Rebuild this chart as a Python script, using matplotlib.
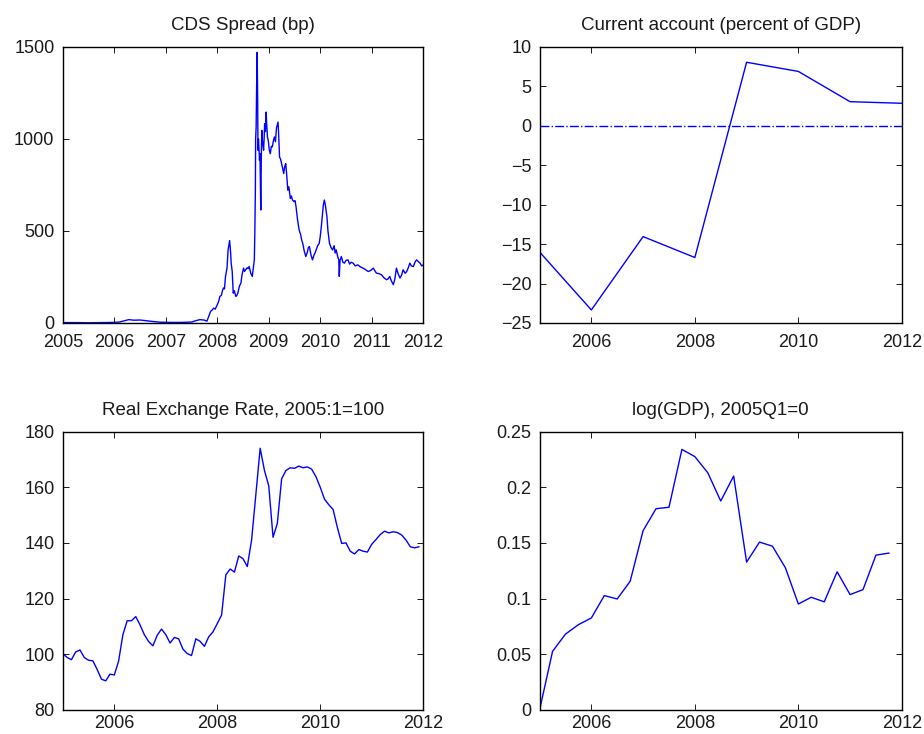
import matplotlib
matplotlib.use("Agg")
import matplotlib.pyplot as plt

plt.rcParams['font.family'] = ['Liberation Sans', 'DejaVu Sans']

# --- CDS spread (bp) ---
cds_dates = [2005.00, 2005.25, 2005.50, 2005.75, 2006.00, 2006.10, 2006.20, 2006.28, 2006.38, 2006.50,
             2006.62, 2006.75, 2006.90, 2007.10, 2007.30, 2007.50, 2007.58, 2007.66, 2007.74, 2007.80,
             2007.84, 2007.87, 2007.90, 2007.93, 2007.96, 2008.00, 2008.03, 2008.05, 2008.08, 2008.10,
             2008.12, 2008.14, 2008.16, 2008.19, 2008.21, 2008.24, 2008.26, 2008.27, 2008.29, 2008.31,
             2008.33, 2008.36, 2008.38, 2008.40, 2008.43, 2008.46, 2008.48, 2008.51, 2008.53, 2008.55,
             2008.58, 2008.60, 2008.62, 2008.65, 2008.68, 2008.70, 2008.72, 2008.73, 2008.74, 2008.745,
             2008.755, 2008.765, 2008.775, 2008.785, 2008.79, 2008.80, 2008.81, 2008.82, 2008.83, 2008.845,
             2008.855, 2008.865, 2008.88, 2008.90, 2008.91, 2008.92, 2008.935, 2008.95, 2008.96, 2008.975,
             2008.99, 2009.01, 2009.03, 2009.05, 2009.07, 2009.09, 2009.11, 2009.13, 2009.15, 2009.17,
             2009.18, 2009.19, 2009.21, 2009.23, 2009.25, 2009.27, 2009.29, 2009.31, 2009.33, 2009.35,
             2009.37, 2009.39, 2009.42, 2009.44, 2009.46, 2009.49, 2009.51, 2009.53, 2009.56, 2009.59,
             2009.62, 2009.64, 2009.66, 2009.69, 2009.72, 2009.75, 2009.77, 2009.79, 2009.82, 2009.85,
             2009.88, 2009.90, 2009.92, 2009.95, 2009.98, 2010.00, 2010.02, 2010.04, 2010.06, 2010.08,
             2010.10, 2010.13, 2010.15, 2010.18, 2010.21, 2010.24, 2010.27, 2010.29, 2010.31, 2010.34,
             2010.36, 2010.37, 2010.385, 2010.41, 2010.44, 2010.47, 2010.50, 2010.54, 2010.57, 2010.60,
             2010.64, 2010.68, 2010.73, 2010.78, 2010.83, 2010.88, 2010.93, 2010.98, 2011.03, 2011.06,
             2011.09, 2011.14, 2011.19, 2011.24, 2011.29, 2011.32, 2011.35, 2011.38, 2011.42, 2011.45,
             2011.48, 2011.51, 2011.55, 2011.58, 2011.61, 2011.65, 2011.68, 2011.71, 2011.74, 2011.77,
             2011.81, 2011.84, 2011.87, 2011.90, 2011.94, 2011.97, 2012.00]
cds_values = [2, 2, 1, 2, 3, 5, 12, 18, 15, 16,
              12, 8, 4, 3, 3, 5, 12, 18, 16, 10,
              40, 63, 70, 81, 75, 99, 120, 144, 150, 175,
              190, 185, 253, 300, 397, 448, 380, 325, 280, 162,
              175, 144, 150, 162, 200, 217, 260, 298, 280, 289,
              300, 295, 307, 270, 253, 300, 343, 500, 722, 1000,
              1065, 1300, 1471, 1200, 939, 1000, 950, 884, 920, 614,
              900, 1047, 980, 939, 1000, 1083, 1040, 1146, 1080, 1010,
              993, 940, 920, 960, 957, 990, 1011, 985, 1060, 1083,
              1092, 1040, 902, 890, 866, 840, 812, 850, 866, 800,
              722, 740, 677, 690, 668, 660, 665, 632, 560, 505,
              480, 450, 433, 390, 361, 385, 410, 415, 370, 343,
              370, 380, 397, 420, 433, 470, 520, 578, 640, 668,
              640, 578, 500, 433, 410, 397, 420, 380, 397, 360,
              343, 253, 340, 361, 330, 325, 340, 343, 320, 330,
              325, 310, 316, 305, 298, 290, 280, 285, 298, 285,
              271, 268, 262, 245, 235, 240, 253, 230, 208, 240,
              298, 270, 244, 260, 289, 270, 280, 300, 325, 310,
              307, 330, 343, 335, 325, 310, 316]

# --- Current account (percent of GDP), annual ---
ca_years = [2005, 2006, 2007, 2008, 2009, 2010, 2011, 2012]
ca_values = [-16.0, -23.35, -14.05, -16.7, 8.06, 6.9, 3.06, 2.86]

# --- Real exchange rate, monthly, 2005:1 = 100 ---
rer_start = 2005
rer_values = [100.2, 98.8, 98.0, 100.8, 101.5, 98.8, 97.8, 97.6, 94.5, 91.0, 90.4, 92.8,
              92.5, 97.5, 107.0, 112.0, 112.0, 113.5, 110.5, 107.0, 104.5, 103.0, 106.8, 109.0,
              107.0, 104.0, 106.0, 105.5, 101.8, 100.2, 99.5, 105.5, 104.6, 102.8, 106.2, 108.0,
              111.0, 114.0, 128.5, 130.6, 129.5, 135.3, 134.3, 131.5, 141.0, 157.5, 174.0, 166.0,
              160.5, 142.0, 147.0, 163.0, 166.0, 167.0, 166.8, 167.6, 167.0, 167.3, 166.5, 163.8,
              160.0, 155.7, 153.7, 152.0, 145.5, 139.8, 140.0, 137.0, 136.0, 137.6, 137.0, 136.7,
              139.5, 141.2, 143.0, 144.2, 143.6, 144.0, 143.7, 142.8, 141.0, 138.6, 138.2, 138.6]

# --- log(GDP), quarterly, 2005Q1 = 0 ---
gdp_start = 2005
gdp_values = [0.0, 0.0525, 0.068, 0.0765, 0.0825, 0.1026, 0.0996, 0.1155,
              0.161, 0.1807, 0.182, 0.234, 0.2275, 0.213, 0.1876, 0.21,
              0.1327, 0.1507, 0.147, 0.1276, 0.0951, 0.1011, 0.097, 0.124,
              0.1035, 0.108, 0.139, 0.1408]

rer_dates = [rer_start + i / 12 for i in range(len(rer_values))]
gdp_dates = [gdp_start + i / 4 for i in range(len(gdp_values))]

blue = '#0000ff'
fs = 13

fig = plt.figure(figsize=(9.24, 7.34), dpi=100)
ax1 = fig.add_axes([0.068, 0.560, 0.390, 0.376])
ax2 = fig.add_axes([0.584, 0.560, 0.392, 0.376])
ax3 = fig.add_axes([0.068, 0.033, 0.390, 0.379])
ax4 = fig.add_axes([0.584, 0.033, 0.392, 0.379])


def style(ax, title, xpad=8):
    ax.set_title(title, fontsize=13.5, pad=12, color='#1a1a1a')
    ax.tick_params(direction='in', top=True, right=True, length=4, width=0.7,
                   labelsize=fs, colors='#1a1a1a')
    ax.tick_params(axis='x', pad=xpad)
    ax.tick_params(axis='y', pad=6)
    for sp in ax.spines.values():
        sp.set_linewidth(1.0)


# CDS spread
ax1.plot(cds_dates, cds_values, color=blue, linewidth=1.0)
ax1.set_xlim(2005, 2012)
ax1.set_ylim(0, 1500)
ax1.set_xticks(range(2005, 2013))
ax1.set_yticks([0, 500, 1000, 1500])
style(ax1, 'CDS Spread (bp)')

# Current account
ax2.plot(ca_years, ca_values, color=blue, linewidth=1.0)
ax2.plot([2005, 2012], [0, 0], color=blue, linewidth=1.0, linestyle='-.')
ax2.set_xlim(2005, 2012)
ax2.set_ylim(-25, 10)
ax2.set_xticks([2006, 2008, 2010, 2012])
ax2.set_yticks(range(-25, 11, 5))
style(ax2, 'Current account (percent of GDP)')

# Real exchange rate
ax3.plot(rer_dates, rer_values, color=blue, linewidth=1.0)
ax3.set_xlim(2005, 2012)
ax3.set_ylim(80, 180)
ax3.set_xticks([2006, 2008, 2010, 2012])
ax3.set_yticks(range(80, 181, 20))
style(ax3, 'Real Exchange Rate, 2005:1=100', xpad=3.5)

# log(GDP)
ax4.plot(gdp_dates, gdp_values, color=blue, linewidth=1.0)
ax4.set_xlim(2005, 2012)
ax4.set_ylim(0, 0.25)
ax4.set_xticks([2006, 2008, 2010, 2012])
ax4.set_yticks([0, 0.05, 0.1, 0.15, 0.2, 0.25])
ax4.set_yticklabels(['0', '0.05', '0.1', '0.15', '0.2', '0.25'])
style(ax4, 'log(GDP), 2005Q1=0', xpad=3.5)

fig.savefig('out.png', dpi=100)
